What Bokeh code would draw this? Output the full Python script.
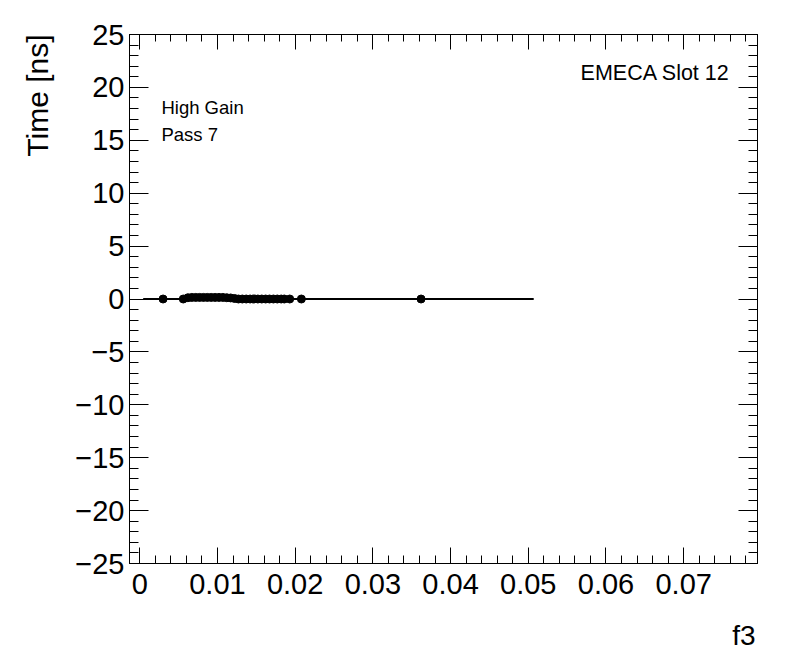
from bokeh.plotting import figure
from bokeh.models import Range1d, LinearAxis, FixedTicker, Label, Title, CustomJSTickFormatter
from bokeh.embed import file_html
from bokeh.resources import INLINE

# ---- data ----
f3_values = [0.0030, 0.0056, 0.0062, 0.0067, 0.0072, 0.0077, 0.0082, 0.0087,
             0.0092, 0.0097, 0.0102, 0.0107, 0.0112, 0.0117, 0.0122, 0.0127,
             0.0132, 0.0137, 0.0142, 0.0147, 0.0152, 0.0157, 0.0162, 0.0167,
             0.0172, 0.0177, 0.0182, 0.0186, 0.0193, 0.0208, 0.0362]
time_values = [0.0, 0.0, 0.12, 0.15, 0.15, 0.15, 0.15, 0.15,
               0.15, 0.15, 0.15, 0.15, 0.12, 0.1, 0.05, 0.0,
               0.0, 0.0, 0.0, 0.0, 0.0, 0.0, 0.0, 0.0,
               0.0, 0.0, 0.0, 0.0, 0.0, 0.0, 0.0]
fit_x = [0.00044, 0.0507]
fit_y = [0.0, 0.0]

x_ticks = [0.0, 0.01, 0.02, 0.03, 0.04, 0.05, 0.06, 0.07]
x_tick_labels = ["0", "0.01", "0.02", "0.03", "0.04", "0.05", "0.06", "0.07"]
x_minor = [i * 0.002 for i in range(0, 40)]
y_ticks = [-25, -20, -15, -10, -5, 0, 5, 10, 15, 20, 25]
y_tick_labels = ["\u221225", "\u221220", "\u221215", "\u221210", "\u22125", "0",
                 "5", "10", "15", "20", "25"]
y_minor = list(range(-25, 26))

x_lo, x_hi = -0.00132, 0.0795
y_lo, y_hi = -25, 25

FONT = "Liberation Sans"

p = figure(width=790, height=672, output_backend="svg", toolbar_location=None,
           x_range=Range1d(x_lo, x_hi), y_range=Range1d(y_lo, y_hi),
           x_axis_location=None, y_axis_location=None,
           min_border_left=128, min_border_right=33,
           min_border_top=34, min_border_bottom=108)
p.grid.visible = False
p.outline_line_color = "black"
p.outline_line_width = 1
p.background_fill_color = "white"
p.border_fill_color = "white"

xt = FixedTicker(ticks=x_ticks, minor_ticks=x_minor)
yt = FixedTicker(ticks=y_ticks, minor_ticks=y_minor)
blank = CustomJSTickFormatter(code="return ''")


def style(ax, major_in, minor_in):
    ax.major_tick_in = major_in
    ax.major_tick_out = 0
    ax.minor_tick_in = minor_in
    ax.minor_tick_out = 0
    ax.axis_line_color = "black"
    ax.major_tick_line_color = "black"
    ax.minor_tick_line_color = "black"
    ax.major_label_text_font = FONT
    ax.major_label_text_font_size = "29px"
    ax.major_label_text_color = "black"


bottom = LinearAxis(ticker=xt)
style(bottom, 16, 8)
bottom.major_label_overrides = {t: l for t, l in zip(x_ticks, x_tick_labels)}
bottom.major_label_standoff = 10
p.add_layout(bottom, "below")

left = LinearAxis(ticker=yt)
style(left, 19, 9)
left.major_label_overrides = {t: l for t, l in zip(y_ticks, y_tick_labels)}
left.major_label_standoff = 5
p.add_layout(left, "left")

top = LinearAxis(ticker=xt, formatter=blank)
style(top, 15, 7)
top.major_label_text_font_size = "1px"
top.major_label_standoff = 0
p.add_layout(top, "above")

right = LinearAxis(ticker=yt, formatter=blank)
style(right, 19, 9)
right.major_label_text_font_size = "1px"
right.major_label_standoff = 0
p.add_layout(right, "right")

# axis titles (ROOT style: at the end of the axis)
p.add_layout(Title(text="Time [ns]", align="right", text_font=FONT,
                   text_font_size="30px", text_font_style="normal",
                   text_color="black", standoff=37), "left")
p.add_layout(Title(text="f3", align="right", text_font=FONT,
                   text_font_size="28px", text_font_style="normal",
                   text_color="black", standoff=43, offset=2), "below")

# fit line and points
p.line(fit_x, fit_y, line_color="black", line_width=2)
p.scatter(f3_values, time_values, size=8, color="black")

# texts
p.add_layout(Label(x=0.00279, y=18.1, text="High Gain", text_font=FONT,
                   text_font_size="18.5px", text_color="black",
                   text_baseline="alphabetic"))
p.add_layout(Label(x=0.00279, y=15.55, text="Pass 7", text_font=FONT,
                   text_font_size="18.5px", text_color="black",
                   text_baseline="alphabetic"))
p.add_layout(Label(x=0.07595, y=21.4, text="EMECA Slot 12", text_font=FONT,
                   text_font_size="21.5px", text_color="black",
                   text_align="right", text_baseline="alphabetic"))

open("out.html", "w").write(file_html(p, INLINE))
